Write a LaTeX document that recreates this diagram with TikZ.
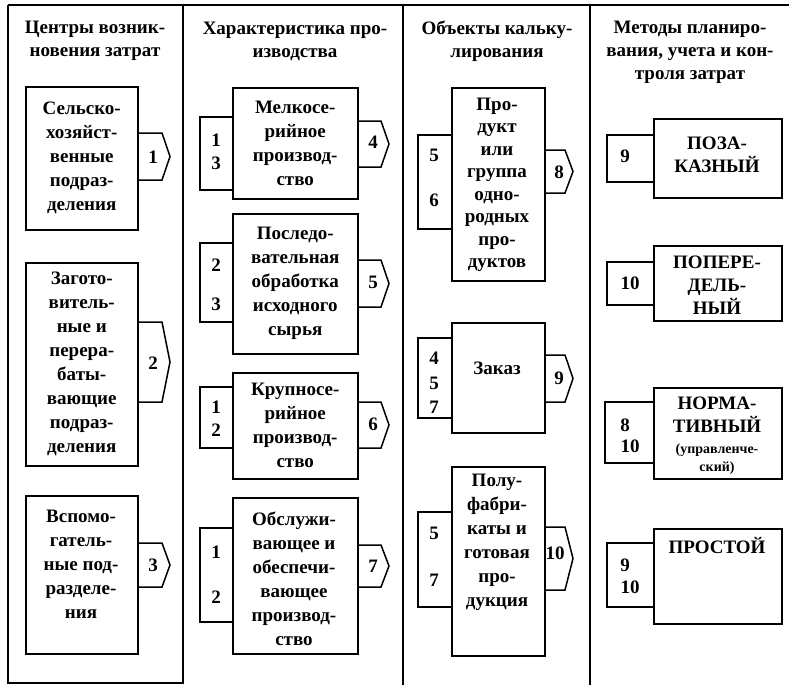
\documentclass[tikz,border=0pt]{standalone}
\usepackage{fontspec}
\setmainfont{Liberation Serif}
\usepackage{tikz}

\tikzset{
  box/.style={draw, line width=1.5pt, anchor=north west, inner sep=0pt},
  boxtxt/.style={align=center, font=\bfseries\fontsize{19}{24}\selectfont},
  tighttxt/.style={align=center, font=\bfseries\fontsize{19}{22.5}\selectfont},
  capstxt/.style={align=center, font=\bfseries\fontsize{19}{23}\selectfont},
  headtxt/.style={align=center, font=\bfseries\fontsize{19}{23}\selectfont},
  smalltxt/.style={align=center, font=\bfseries\fontsize{14}{18}\selectfont},
  num/.style={font=\bfseries\fontsize{19}{24}\selectfont},
  tabline/.style={line width=1.5pt, line join=miter},
  frame/.style={line width=1.6pt},
}
\newcommand{\rtab}[4]{\draw[tabline] (#1.east |- 0,#2) -- (#4-8,#2) -- (#4,{(#2+#3)/2}) -- (#4-8,#3) -- (#1.east |- 0,#3);}
\newcommand{\ltab}[4]{\draw[tabline] (#1.west |- 0,#3) -- (#2,#3) -- (#2,#4) -- (#1.west |- 0,#4);}

\begin{document}
\begin{tikzpicture}[x=1pt,y=-1pt]
  \useasboundingbox (0,0) rectangle (789,685);
  \draw[frame] (8,5) -- (789,5);
  \draw[frame] (8,5) -- (8,683) -- (183,683) -- (183,5);
  \draw[frame] (403,5) -- (403,685);
  \draw[frame] (590,5) -- (590,685);

  \node[headtxt] (h1) at (95,41) {Центры возник-\\новения затрат};
  \node[headtxt] (h2) at (295,41) {Характеристика про-\\изводства};
  \node[headtxt] (h3) at (497,41) {Объекты кальку-\\лирования};
  \node[headtxt] (h4) at (690,52) {Методы планиро-\\вания, учета и кон-\\троля затрат};

  \node[box, minimum width=112pt, minimum height=143pt] (bA) at (25,86) {};
  \node[box, minimum width=112pt, minimum height=203pt] (bB) at (25,262) {};
  \node[box, minimum width=112pt, minimum height=158pt] (bC) at (25,495) {};
  \node[boxtxt] (tA) at (bA) {Сельско-\\хозяйст-\\венные\\подраз-\\деления};
  \node[boxtxt] (tB) at (bB) {Загото-\\витель-\\ные и\\перера-\\баты-\\вающие\\подраз-\\деления};
  \node[boxtxt] (tC) at (81,564) {Вспомо-\\гатель-\\ные под-\\разделе-\\ния};
  \rtab{bA}{133}{180}{170}
  \rtab{bB}{322}{402}{170}
  \rtab{bC}{543}{587}{170}
  \node[num] (nA) at (153,157) {1};
  \node[num] (nB) at (153,363) {2};
  \node[num] (nC) at (153,565) {3};

  \node[box, minimum width=125pt, minimum height=111pt] (bD) at (232,87) {};
  \node[box, minimum width=125pt, minimum height=140pt] (bE) at (232,213) {};
  \node[box, minimum width=125pt, minimum height=106pt] (bF) at (232,372) {};
  \node[box, minimum width=125pt, minimum height=156pt] (bG) at (232,497) {};
  \node[boxtxt] (tD) at (bD) {Мелкосе-\\рийное\\производ-\\ство};
  \node[boxtxt] (tE) at (bE) {Последо-\\вательная\\обработка\\исходного\\сырья};
  \node[boxtxt] (tF) at (bF) {Крупносе-\\рийное\\производ-\\ство};
  \node[boxtxt] (tG) at (294,579) {Обслужи-\\вающее и\\обеспечи-\\вающее\\производ-\\ство};
  \ltab{bD}{200}{117}{190}
  \ltab{bE}{200}{243}{322}
  \ltab{bF}{200}{387}{448}
  \ltab{bG}{200}{528}{622}
  \rtab{bD}{121}{167}{389}
  \rtab{bE}{260}{307}{389}
  \rtab{bF}{402}{448}{389}
  \rtab{bG}{545}{587}{389}
  \node[num] (nD1) at (216,140) {1};
  \node[num] (nD2) at (216,163) {3};
  \node[num] (nE1) at (216,265) {2};
  \node[num] (nE2) at (216,304) {3};
  \node[num] (nF1) at (216,407) {1};
  \node[num] (nF2) at (216,430) {2};
  \node[num] (nG1) at (216,552) {1};
  \node[num] (nG2) at (216,597) {2};
  \node[num] (nD3) at (373,142) {4};
  \node[num] (nE3) at (373,282) {5};
  \node[num] (nF3) at (373,424) {6};
  \node[num] (nG3) at (373,566) {7};

  \node[box, minimum width=93pt, minimum height=193pt] (bH) at (451,87) {};
  \node[box, minimum width=93pt, minimum height=110pt] (bI) at (451,322) {};
  \node[box, minimum width=93pt, minimum height=189pt] (bJ) at (451,466) {};
  \node[tighttxt] (tH) at (497,185) {Про-\\дукт\\или\\группа\\одно-\\родных\\про-\\дуктов};
  \node[boxtxt] (tI) at (497,368) {Заказ};
  \node[boxtxt] (tJ) at (497,542) {Полу-\\фабри-\\каты и\\готовая\\про-\\дукция};
  \ltab{bH}{418}{135}{229}
  \ltab{bI}{418}{338}{418}
  \ltab{bJ}{418}{512}{607}
  \rtab{bH}{150}{193}{573}
  \rtab{bI}{355}{402}{573}
  \rtab{bJ}{527}{590}{573}
  \node[num] (nH1) at (434,155) {5};
  \node[num] (nH2) at (434,200) {6};
  \node[num] (nI1) at (434,358) {4};
  \node[num] (nI2) at (434,383) {5};
  \node[num] (nI3) at (434,407) {7};
  \node[num] (nJ1) at (434,533) {5};
  \node[num] (nJ2) at (434,580) {7};
  \node[num] (nH3) at (559,172) {8};
  \node[num] (nI4) at (559,378) {9};
  \node[num] (nJ3) at (555,553) {10};

  \node[box, minimum width=128pt, minimum height=79pt] (bK) at (653,118) {};
  \node[box, minimum width=128pt, minimum height=75pt] (bL) at (653,245) {};
  \node[box, minimum width=128pt, minimum height=91pt] (bM) at (653,387) {};
  \node[box, minimum width=128pt, minimum height=95pt] (bN) at (653,528) {};
  \node[capstxt] (tK) at (717,155) {ПОЗА-\\КАЗНЫЙ};
  \node[capstxt] (tL) at (717,285) {ПОПЕРЕ-\\ДЕЛЬ-\\НЫЙ};
  \node[capstxt] (tM) at (717,415) {НОРМА-\\ТИВНЫЙ};
  \node[smalltxt] (tM2) at (717,459) {(управленче-\\ский)};
  \node[capstxt] (tN) at (717,545) {ПРОСТОЙ};
  \ltab{bK}{607}{135}{182}
  \ltab{bL}{607}{262}{305}
  \ltab{bM}{605}{402}{463}
  \ltab{bN}{607}{543}{607}
  \node[num] (nK) at (625,156) {9};
  \node[num] (nL) at (630,283) {10};
  \node[num] (nM1) at (625,425) {8};
  \node[num] (nM2) at (630,446) {10};
  \node[num] (nN1) at (625,565) {9};
  \node[num] (nN2) at (630,587) {10};
\end{tikzpicture}
\end{document}
